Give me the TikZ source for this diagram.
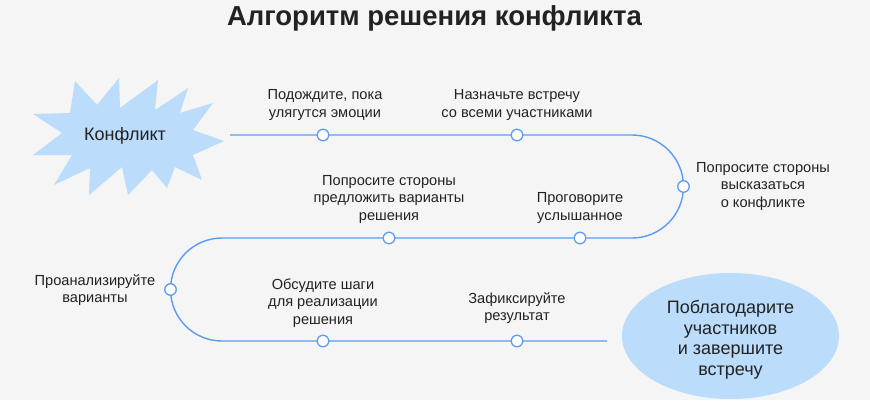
\documentclass[tikz,border=0pt]{standalone}
\usepackage{fontspec}
\setmainfont{Liberation Sans}
\definecolor{bgc}{HTML}{F5F5F5}
\definecolor{linec}{HTML}{5C9BF2}
\definecolor{fillc}{HTML}{BBDCFA}
\definecolor{txtc}{HTML}{222222}
\begin{document}
\begin{tikzpicture}[x=1pt,y=-1pt,
  lbl/.style={align=center,text=txtc,inner sep=0pt,font=\fontsize{14.6}{17.5}\selectfont},
  big/.style={align=center,text=txtc,inner sep=0pt,font=\fontsize{18}{21}\selectfont},
  mk/.style={circle,draw=linec,fill=white,line width=1.3pt,minimum size=11.5pt,inner sep=0pt},
  road/.style={draw=linec,line width=1.4pt}]
\fill[bgc] (0,0) rectangle (870,400);
\useasboundingbox (0,0) rectangle (870,400);
% title
\node[text=txtc,inner sep=0pt,font=\fontsize{27.5}{30}\selectfont\bfseries] (title) at (434.5,18) {Алгоритм решения конфликта};
% starburst
\fill[fillc] (75,81) -- (97,105) -- (119,78) -- (120,108) -- (158,80) -- (155,110) -- (188,88) -- (180,113)
  -- (213,103) -- (193,130) -- (224,141) -- (193,155) -- (202,180) -- (175,167) -- (167,188) -- (152,170)
  -- (128,195) -- (122,167) -- (89,195) -- (90,168) -- (54,185) -- (72,155) -- (33,155) -- (62,133)
  -- (33,114) -- (70,113) -- cycle;
\node[big] (start) at (125,136) {Конфликт};
% ellipse
\fill[fillc] (730.5,336) ellipse[x radius=108.5pt,y radius=63pt];
\node[big,font=\fontsize{18}{20.5}\selectfont] (finish) at (730.5,340) {Поблагодарите\\участников\\и завершите\\встречу};
% road
\coordinate (s) at (230,135);
\coordinate (r1) at (632,135);
\coordinate (r2) at (222,238);
\coordinate (e) at (607,341);
\draw[road] (s) -- (r1) arc[start angle=90,end angle=-90,radius=51.5pt] -- (r2)
  arc[start angle=90,end angle=270,radius=51.5pt] -- (e);
% markers
\node[mk] (m1) at (323,135) {};
\node[mk] (m2) at (517,135) {};
\node[mk] (m3) at (683.5,186.5) {};
\node[mk] (m4) at (580,238) {};
\node[mk] (m5) at (389,238) {};
\node[mk] (m6) at (170.5,289.5) {};
\node[mk] (m7) at (323,341) {};
\node[mk] (m8) at (517,341) {};
% labels
\node[lbl] (t1) at (325,105) {Подождите, пока\\улягутся эмоции};
\node[lbl] (t2) at (517,105) {Назначьте встречу\\со всеми участниками};
\node[lbl] (t3) at (763,186) {Попросите стороны\\высказаться\\о конфликте};
\node[lbl] (t4) at (389,199) {Попросите стороны\\предложить варианты\\решения};
\node[lbl] (t5) at (580,208) {Проговорите\\услышанное};
\node[lbl] (t6) at (95,290) {Проанализируйте\\варианты};
\node[lbl] (t7) at (323,303) {Обсудите шаги\\для реализации\\решения};
\node[lbl] (t8) at (517,308) {Зафиксируйте\\результат};
\end{tikzpicture}
\end{document}
